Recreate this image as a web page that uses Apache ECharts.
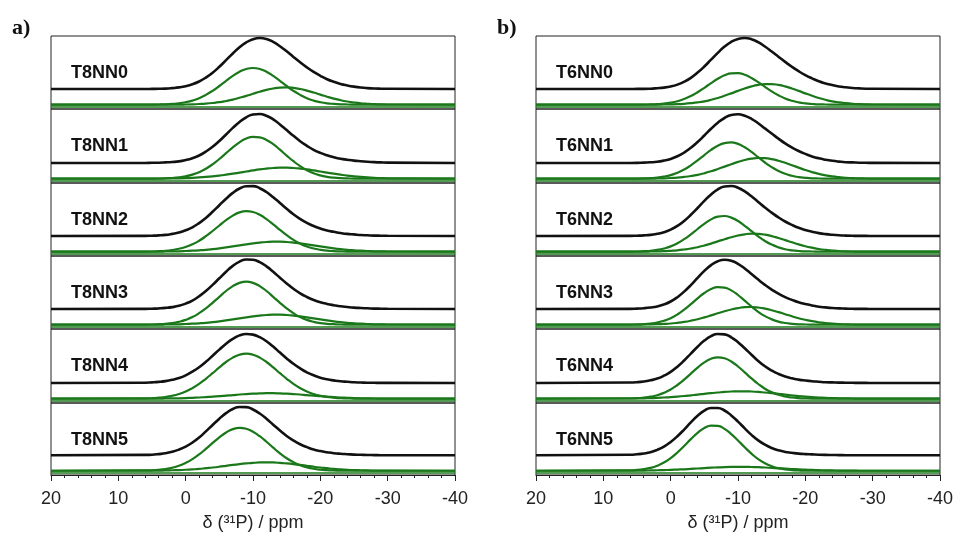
<!DOCTYPE html>
<html>
<head>
<meta charset="utf-8">
<script src="https://cdn.jsdelivr.net/npm/echarts@6/dist/echarts.min.js"></script>
<style>
  html, body { margin: 0; padding: 0; background: #fff; }
  #chart { width: 957px; height: 533px; }
</style>
</head>
<body>
<div id="chart"></div>
<script>
var shifts = [20,
  6, 5, 4, 3, 2, 1, 0,
  -1, -2, -3, -4, -5, -6, -7, -8, -9, -10,
  -11, -12, -13, -14, -15, -16, -17, -18, -19, -20,
  -21, -22, -23, -24, -25, -26, -27, -28, -29, -30,
  -40]
var xTicks = [20, 10, 0, -10, -20, -30, -40]

// panel a)
var t8Names = ['T8NN0', 'T8NN1', 'T8NN2', 'T8NN3', 'T8NN4', 'T8NN5']
// black: measured spectrum
var t8Fit = [
  [0, 0, 0.1, 0.2, 0.4, 0.9, 1.6, 2.8,
   4.7, 7.5, 11.4, 16.3, 22.2, 28.8, 35.5, 41.8, 46.6, 49.8,
   51.0, 50.0, 47.1, 42.8, 37.7, 32.1, 26.7, 21.6, 17.1, 13.2,
   9.8, 7.2, 5.1, 3.6, 2.4, 1.5, 0.9, 0.5, 0.3, 0.2, 0],
  [0, 0, 0.2, 0.3, 0.6, 1.0, 1.6, 2.9,
   4.8, 7.5, 11.4, 16.2, 22.0, 28.5, 35.1, 41.1, 45.7, 48.5,
   49.0, 47.2, 43.7, 38.6, 32.9, 27.2, 21.8, 17.2, 13.2, 10.1,
   7.7, 5.8, 4.3, 3.3, 2.4, 1.8, 1.3, 0.9, 0.6, 0.4, 0],
  [0, 0.1, 0.3, 0.6, 1.1, 2.1, 3.4, 5.7,
   8.7, 12.9, 18.1, 24.2, 30.8, 37.3, 43.1, 47.5, 49.8, 49.9,
   47.8, 44.0, 38.8, 33.1, 27.2, 21.7, 17.1, 13.1, 10.0, 7.5,
   5.5, 4.2, 3.0, 2.1, 1.6, 1.0, 0.7, 0.4, 0.3, 0.2, 0],
  [0, 0.1, 0.3, 0.6, 1.1, 1.9, 3.2, 5.4,
   8.4, 12.7, 17.9, 24.1, 30.7, 37.3, 43.1, 47.3, 49.5, 49.2,
   46.8, 42.6, 37.2, 31.3, 25.5, 20.2, 15.6, 12.0, 9.1, 6.8,
   5.1, 3.8, 2.7, 2.0, 1.4, 1.0, 0.7, 0.4, 0.3, 0.2, 0],
  [0, 0.3, 0.6, 1.1, 1.9, 3.2, 5.0, 7.7,
   11.4, 15.8, 21.2, 27.2, 33.4, 39.3, 44.2, 47.6, 49.0, 48.4,
   45.8, 41.7, 36.4, 30.4, 24.6, 19.2, 14.6, 10.7, 7.7, 5.3,
   3.7, 2.6, 1.7, 1.2, 0.7, 0.5, 0.3, 0.2, 0.1, 0.1, 0],
  [0, 0.4, 0.6, 1.2, 2.0, 3.5, 5.7, 8.8,
   12.9, 18.0, 24.2, 30.7, 37.1, 42.7, 46.9, 48.9, 48.8, 46.4,
   42.3, 37.0, 31.0, 25.1, 19.6, 15.0, 11.2, 8.3, 5.9, 4.3,
   3.1, 2.1, 1.5, 1.1, 0.7, 0.5, 0.3, 0.2, 0.1, 0.1, 0]
]
// green: main component
var t8Main = [
  [0, 0, 0.1, 0.2, 0.4, 0.8, 1.4, 2.5,
   4.1, 6.5, 9.8, 13.9, 18.7, 23.8, 28.8, 33.0, 35.7, 36.7,
   35.7, 33.0, 28.8, 23.8, 18.7, 13.9, 9.8, 6.5, 4.1, 2.5,
   1.4, 0.8, 0.4, 0.2, 0.1, 0, 0, 0, 0, 0, 0],
  [0, 0, 0.1, 0.2, 0.4, 0.7, 1.3, 2.4,
   4.1, 6.5, 10.0, 14.4, 19.7, 25.5, 31.3, 36.4, 40.1, 41.9,
   41.4, 38.8, 34.5, 29.0, 23.1, 17.5, 12.5, 8.5, 5.4, 3.3,
   1.9, 1.0, 0.5, 0.3, 0.1, 0.1, 0, 0, 0, 0, 0],
  [0, 0.1, 0.2, 0.5, 0.9, 1.7, 2.9, 4.8,
   7.4, 11.0, 15.5, 20.7, 26.2, 31.6, 36.1, 39.3, 40.5, 39.7,
   36.9, 32.6, 27.3, 21.8, 16.5, 11.8, 8.1, 5.2, 3.2, 1.9,
   1.0, 0.6, 0.3, 0.1, 0.1, 0, 0, 0, 0, 0, 0],
  [0, 0.1, 0.2, 0.5, 0.9, 1.6, 2.9, 4.8,
   7.6, 11.5, 16.3, 21.9, 27.9, 33.7, 38.6, 41.8, 43.0, 41.8,
   38.6, 33.7, 27.9, 21.9, 16.3, 11.5, 7.6, 4.8, 2.9, 1.6,
   0.9, 0.5, 0.2, 0.1, 0, 0, 0, 0, 0, 0, 0],
  [0, 0.3, 0.5, 1.0, 1.7, 2.9, 4.7, 7.2,
   10.6, 14.8, 19.9, 25.5, 31.3, 36.7, 41.1, 44.0, 45.0, 44.0,
   41.1, 36.7, 31.3, 25.5, 19.9, 14.8, 10.6, 7.2, 4.7, 2.9,
   1.7, 1.0, 0.5, 0.3, 0.1, 0.1, 0, 0, 0, 0, 0],
  [0, 0.3, 0.5, 1.0, 1.8, 3.1, 5.1, 8.0,
   11.8, 16.6, 22.2, 28.2, 33.9, 38.8, 42.2, 43.5, 42.6, 39.6,
   35.0, 29.4, 23.4, 17.7, 12.7, 8.7, 5.6, 3.5, 2.0, 1.1,
   0.6, 0.3, 0.1, 0.1, 0, 0, 0, 0, 0, 0, 0]
]
// green: second component
var t8Minor = [
  [0, 0, 0, 0, 0, 0.1, 0.1, 0.2,
   0.4, 0.7, 1.1, 1.7, 2.5, 3.7, 5.1, 6.9, 8.8, 10.9,
   13.0, 14.8, 16.2, 17.1, 17.3, 16.8, 15.7, 14.1, 12.2, 10.1,
   8.0, 6.1, 4.5, 3.2, 2.2, 1.4, 0.9, 0.5, 0.3, 0.2, 0],
  [0, 0, 0.1, 0.1, 0.2, 0.3, 0.4, 0.6,
   0.9, 1.3, 1.8, 2.4, 3.1, 4.0, 5.0, 6.1, 7.2, 8.3,
   9.3, 10.1, 10.7, 11.0, 11.0, 10.7, 10.1, 9.3, 8.3, 7.2,
   6.1, 5.0, 4.0, 3.1, 2.4, 1.8, 1.3, 0.9, 0.6, 0.4, 0],
  [0, 0, 0.1, 0.1, 0.2, 0.3, 0.4, 0.7,
   1.0, 1.4, 1.9, 2.6, 3.4, 4.3, 5.3, 6.4, 7.4, 8.3,
   9.1, 9.7, 10.0, 10.0, 9.7, 9.1, 8.3, 7.4, 6.4, 5.3,
   4.3, 3.4, 2.6, 1.9, 1.4, 1.0, 0.7, 0.4, 0.3, 0.2, 0],
  [0, 0, 0.1, 0.1, 0.2, 0.3, 0.4, 0.7,
   1.0, 1.4, 1.9, 2.6, 3.4, 4.3, 5.3, 6.4, 7.4, 8.3,
   9.1, 9.7, 10.0, 10.0, 9.7, 9.1, 8.3, 7.4, 6.4, 5.3,
   4.3, 3.4, 2.6, 1.9, 1.4, 1.0, 0.7, 0.4, 0.3, 0.2, 0],
  [0, 0, 0.1, 0.1, 0.2, 0.3, 0.4, 0.6,
   0.9, 1.2, 1.6, 2.0, 2.5, 3.1, 3.6, 4.2, 4.6, 5.0,
   5.3, 5.5, 5.5, 5.3, 5.0, 4.6, 4.2, 3.6, 3.1, 2.5,
   2.0, 1.6, 1.2, 0.9, 0.6, 0.4, 0.3, 0.2, 0.1, 0.1, 0],
  [0, 0.1, 0.1, 0.2, 0.3, 0.5, 0.7, 1.0,
   1.4, 1.9, 2.6, 3.3, 4.1, 5.0, 5.9, 6.7, 7.4, 8.0,
   8.4, 8.5, 8.4, 8.0, 7.4, 6.7, 5.9, 5.0, 4.1, 3.3,
   2.6, 1.9, 1.4, 1.0, 0.7, 0.5, 0.3, 0.2, 0.1, 0.1, 0]
]

// panel b)
var t6Names = ['T6NN0', 'T6NN1', 'T6NN2', 'T6NN3', 'T6NN4', 'T6NN5']
var t6Fit = [
  [0, 0, 0.1, 0.1, 0.3, 0.8, 1.4, 2.5,
   4.4, 7.3, 11.2, 16.4, 22.5, 29.3, 36.1, 42.4, 47.2, 50.1,
   51.0, 49.8, 46.8, 42.5, 37.5, 32.3, 27.1, 22.2, 17.8, 13.9,
   10.6, 7.7, 5.6, 3.9, 2.5, 1.7, 1.0, 0.6, 0.3, 0.2, 0],
  [0, 0, 0.1, 0.4, 0.7, 1.2, 2.4, 4.1,
   6.7, 10.4, 15.2, 21.0, 27.5, 34.2, 40.3, 45.0, 48.0, 48.7,
   47.3, 44.2, 39.8, 34.6, 29.5, 24.4, 19.6, 15.5, 12.0, 9.1,
   6.6, 4.7, 3.3, 2.2, 1.4, 0.8, 0.6, 0.3, 0.2, 0.1, 0],
  [0, 0.1, 0.3, 0.6, 1.1, 2.2, 3.8, 6.4,
   10.1, 15.1, 21.2, 28.0, 35.1, 41.6, 46.6, 49.5, 50.0, 48.3,
   44.6, 39.7, 34.1, 28.5, 23.4, 18.6, 14.5, 11.1, 8.2, 6.0,
   4.3, 2.9, 1.9, 1.2, 0.7, 0.4, 0.2, 0.1, 0.1, 0, 0],
  [0, 0.1, 0.4, 0.8, 1.5, 2.6, 4.6, 7.5,
   11.8, 17.4, 23.9, 31.1, 38.1, 43.9, 47.8, 49.3, 48.3, 45.2,
   40.5, 35.0, 29.4, 24.1, 19.4, 15.3, 11.9, 9.1, 6.7, 5.0,
   3.5, 2.3, 1.6, 1.0, 0.6, 0.4, 0.2, 0.1, 0.1, 0, 0],
  [0, 0.5, 0.8, 1.5, 2.7, 4.4, 7.3, 11.1,
   16.3, 22.5, 29.4, 36.3, 42.4, 46.9, 49.0, 48.6, 45.7, 40.8,
   34.7, 28.3, 22.1, 16.7, 12.5, 9.1, 6.5, 4.7, 3.4, 2.5,
   1.8, 1.3, 0.8, 0.6, 0.4, 0.3, 0.2, 0.1, 0.1, 0, 0],
  [0, 0.5, 1.0, 1.8, 3.1, 5.5, 8.8, 13.5,
   19.3, 26.1, 33.4, 40.0, 45.2, 48.0, 48.0, 45.4, 40.4, 34.1,
   27.3, 20.7, 15.1, 10.7, 7.4, 5.0, 3.4, 2.5, 1.7, 1.2,
   0.9, 0.6, 0.4, 0.3, 0.2, 0.1, 0.1, 0, 0, 0, 0]
]
var t6Main = [
  [0, 0, 0.1, 0.1, 0.3, 0.6, 1.1, 2.0,
   3.5, 5.7, 8.6, 12.5, 16.9, 21.6, 25.9, 29.4, 31.4, 31.5,
   29.9, 26.7, 22.5, 17.8, 13.3, 9.4, 6.2, 3.9, 2.3, 1.3,
   0.7, 0.3, 0.2, 0.1, 0, 0, 0, 0, 0, 0, 0],
  [0, 0, 0.1, 0.3, 0.6, 1.1, 2.1, 3.6,
   6.0, 9.2, 13.4, 18.3, 23.6, 28.8, 33.0, 35.6, 36.3, 34.8,
   31.4, 26.8, 21.5, 16.2, 11.6, 7.8, 4.9, 2.9, 1.6, 0.9,
   0.4, 0.2, 0.1, 0, 0, 0, 0, 0, 0, 0, 0],
  [0, 0.1, 0.2, 0.5, 0.9, 1.8, 3.2, 5.3,
   8.4, 12.5, 17.4, 22.7, 27.9, 32.3, 35.0, 35.7, 34.1, 30.7,
   25.9, 20.6, 15.3, 10.7, 7.1, 4.4, 2.5, 1.4, 0.7, 0.3,
   0.2, 0.1, 0, 0, 0, 0, 0, 0, 0, 0, 0],
  [0, 0.1, 0.3, 0.6, 1.2, 2.2, 3.9, 6.5,
   10.2, 15.0, 20.5, 26.4, 31.7, 35.7, 37.6, 37.1, 34.3, 29.7,
   24.0, 18.2, 12.9, 8.6, 5.4, 3.1, 1.7, 0.9, 0.4, 0.2,
   0.1, 0, 0, 0, 0, 0, 0, 0, 0, 0, 0],
  [0, 0.3, 0.5, 1.1, 2.0, 3.5, 5.9, 9.2,
   13.7, 19.1, 25.1, 31.1, 36.3, 39.9, 41.4, 40.4, 37.2, 32.2,
   26.3, 20.3, 14.7, 10.0, 6.5, 3.9, 2.2, 1.2, 0.6, 0.3,
   0.1, 0.1, 0, 0, 0, 0, 0, 0, 0, 0, 0],
  [0, 0.4, 0.8, 1.6, 2.9, 5.1, 8.3, 12.8,
   18.5, 25.1, 32.1, 38.4, 43.3, 45.8, 45.5, 42.5, 37.2, 30.7,
   23.8, 17.3, 11.8, 7.6, 4.6, 2.6, 1.4, 0.7, 0.3, 0.1,
   0.1, 0, 0, 0, 0, 0, 0, 0, 0, 0, 0]
]
var t6Minor = [
  [0, 0, 0, 0, 0, 0.1, 0.2, 0.3,
   0.5, 0.9, 1.5, 2.3, 3.4, 4.9, 6.7, 8.9, 11.3, 13.8,
   16.2, 18.3, 19.8, 20.6, 20.6, 19.8, 18.3, 16.2, 13.8, 11.3,
   8.9, 6.7, 4.9, 3.4, 2.3, 1.5, 0.9, 0.5, 0.3, 0.2, 0],
  [0, 0, 0, 0.1, 0.1, 0.2, 0.4, 0.7,
   1.1, 1.8, 2.7, 3.9, 5.5, 7.4, 9.7, 12.1, 14.5, 16.8,
   18.7, 20.0, 20.7, 20.5, 19.6, 18.0, 15.9, 13.5, 11.1, 8.7,
   6.6, 4.8, 3.4, 2.3, 1.5, 0.9, 0.6, 0.3, 0.2, 0.1, 0],
  [0, 0, 0.1, 0.1, 0.2, 0.3, 0.5, 0.9,
   1.4, 2.2, 3.2, 4.5, 6.2, 8.1, 10.3, 12.4, 14.5, 16.2,
   17.4, 18.0, 17.8, 17.0, 15.6, 13.7, 11.6, 9.4, 7.3, 5.5,
   4.0, 2.7, 1.8, 1.2, 0.7, 0.4, 0.2, 0.1, 0.1, 0, 0],
  [0, 0, 0.1, 0.2, 0.3, 0.5, 0.8, 1.2,
   1.9, 2.8, 4.0, 5.5, 7.3, 9.3, 11.4, 13.4, 15.2, 16.6,
   17.5, 17.7, 17.2, 16.1, 14.5, 12.6, 10.5, 8.4, 6.5, 4.9,
   3.5, 2.4, 1.6, 1.0, 0.6, 0.4, 0.2, 0.1, 0.1, 0, 0],
  [0, 0.2, 0.3, 0.4, 0.6, 0.8, 1.2, 1.6,
   2.1, 2.7, 3.4, 4.1, 4.9, 5.6, 6.2, 6.8, 7.2, 7.4,
   7.4, 7.2, 6.8, 6.2, 5.6, 4.9, 4.1, 3.4, 2.7, 2.1,
   1.6, 1.2, 0.8, 0.6, 0.4, 0.3, 0.2, 0.1, 0.1, 0, 0],
  [0, 0.1, 0.2, 0.2, 0.3, 0.5, 0.7, 0.9,
   1.2, 1.5, 1.9, 2.3, 2.7, 3.1, 3.4, 3.7, 3.9, 4.0,
   4.0, 3.8, 3.6, 3.3, 2.9, 2.5, 2.1, 1.8, 1.4, 1.1,
   0.8, 0.6, 0.4, 0.3, 0.2, 0.1, 0.1, 0, 0, 0, 0]
]

// layout (px)
var panelLeft = [51, 536]
var panelWidth = 404
var rowTops = [36, 109, 183, 256, 329, 403]
var rowBottom = 476
// vertical offsets inside a row
var greenBase = 4.3
var greenBase2 = 2
var blackBase = 20

var black = '#111'
var green = '#1a781a'
var font = '"Liberation Sans", Arial, sans-serif'

function toPoints(vals, off) {
  return vals.map(function (v, i) { return [shifts[i], v + off] })
}

var panels = [
  { tag: 'a)', names: t8Names, fit: t8Fit, main: t8Main, minor: t8Minor },
  { tag: 'b)', names: t6Names, fit: t6Fit, main: t6Main, minor: t6Minor }
]

var grid = [], xAxis = [], yAxis = [], series = [], graphic = []

panels.forEach(function (pan, p) {
  graphic.push({
    type: 'text', left: panelLeft[p] - 39, top: 17,
    style: { text: pan.tag, font: 'bold 22px "Liberation Serif", "Times New Roman", serif', fill: '#111' }
  })
  for (var r = 0; r < 6; r++) {
    var idx = p * 6 + r
    var h = (r < 5 ? rowTops[r + 1] : rowBottom) - rowTops[r]
    var last = r === 5
    grid.push({
      left: panelLeft[p], width: panelWidth, top: rowTops[r], height: h,
      show: true, borderColor: '#222', borderWidth: 1, backgroundColor: 'transparent'
    })
    xAxis.push({
      gridIndex: idx,
      type: 'value',
      inverse: true,
      min: xTicks[xTicks.length - 1],
      max: xTicks[0],
      interval: xTicks[0] - xTicks[1],
      axisLine: { show: last, lineStyle: { color: '#222', width: 1 } },
      axisTick: { show: last, length: 6, lineStyle: { color: '#222' } },
      minorTick: { show: last, splitNumber: 5, length: 3, lineStyle: { color: '#222' } },
      axisLabel: { show: last, fontSize: 18, color: '#222', fontFamily: font, margin: 15 },
      splitLine: { show: false },
      name: last ? 'δ (³¹P) / ppm' : '',
      nameLocation: 'middle',
      nameGap: 39,
      nameTextStyle: { fontSize: 18, color: '#222', fontFamily: font }
    })
    yAxis.push({ gridIndex: idx, type: 'value', min: 0, max: h, show: false })

    // green double baseline
    series.push({
      type: 'line', xAxisIndex: idx, yAxisIndex: idx, symbol: 'none', silent: true,
      data: [[xTicks[0], greenBase2], [xTicks[xTicks.length - 1], greenBase2]],
      lineStyle: { color: green, width: 1.6 }
    })
    series.push({
      type: 'line', xAxisIndex: idx, yAxisIndex: idx, symbol: 'none', smooth: 0.5, silent: true,
      data: toPoints(pan.minor[r], greenBase),
      lineStyle: { color: green, width: 2.2 }
    })
    series.push({
      type: 'line', xAxisIndex: idx, yAxisIndex: idx, symbol: 'none', smooth: 0.5, silent: true,
      data: toPoints(pan.main[r], greenBase),
      lineStyle: { color: green, width: 2.2 }
    })
    series.push({
      type: 'line', xAxisIndex: idx, yAxisIndex: idx, symbol: 'none', smooth: 0.5, silent: true,
      data: toPoints(pan.fit[r], blackBase),
      lineStyle: { color: black, width: 2.6 },
      z: 3
    })

    graphic.push({
      type: 'text', left: panelLeft[p] + 20, top: rowTops[r] + 28,
      style: { text: pan.names[r], font: 'bold 18px ' + font, fill: '#111' }
    })
  }
})

var myChart = echarts.init(document.getElementById('chart'))
myChart.setOption({
  animation: false,
  backgroundColor: '#fff',
  grid: grid,
  xAxis: xAxis,
  yAxis: yAxis,
  series: series,
  graphic: graphic
})
</script>
</body>
</html>
